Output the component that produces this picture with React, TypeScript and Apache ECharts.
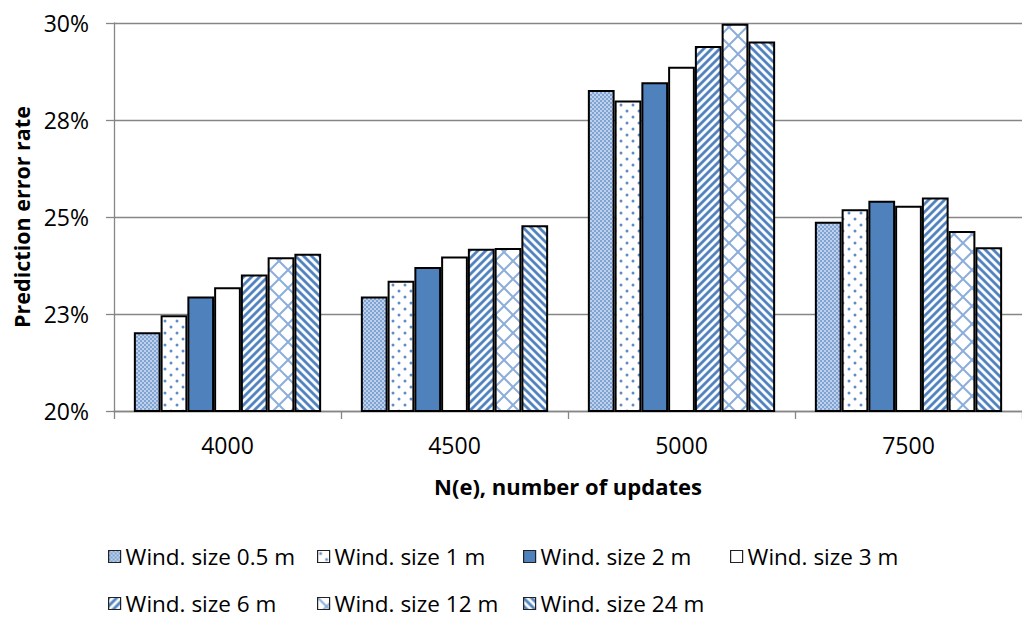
import React, { useEffect, useRef } from "react";
import * as echarts from "echarts";

const categories = ["4000", "4500", "5000", "7500"];
const yTickValues = [20, 22.5, 25, 27.5, 30];

const seriesNames = [
  "Wind. size 0.5 m",
  "Wind. size 1 m",
  "Wind. size 2 m",
  "Wind. size 3 m",
  "Wind. size 6 m",
  "Wind. size 12 m",
  "Wind. size 24 m",
];

const wind05 = [22.03, 22.95, 28.27, 24.88];
const wind1 = [22.47, 23.36, 28.0, 25.2];
const wind2 = [22.95, 23.71, 28.47, 25.42];
const wind3 = [23.19, 23.98, 28.87, 25.29];
const wind6 = [23.52, 24.18, 29.41, 25.5];
const wind12 = [23.96, 24.2, 29.98, 24.64];
const wind24 = [24.05, 24.79, 29.52, 24.22];

const seriesValues = [wind05, wind1, wind2, wind3, wind6, wind12, wind24];

const BLUE = "#4F81BD";
const FONT = "Open Sans";

function mkCanvas(w: number, h: number) {
  const c = document.createElement("canvas");
  c.width = w;
  c.height = h;
  return c;
}

function asPattern(c: HTMLCanvasElement) {
  return {
    image: c,
    repeat: "repeat",
    imageWidth: c.width,
    imageHeight: c.height,
  } as any;
}

function gridTile() {
  const c = mkCanvas(4, 4);
  const ctx = c.getContext("2d")!;
  ctx.fillStyle = "#ffffff";
  ctx.fillRect(0, 0, 4, 4);
  ctx.fillStyle = "#7FA3D3";
  ctx.fillRect(0, 0, 2, 2);
  ctx.fillRect(2, 2, 2, 2);
  ctx.fillStyle = "#A9C1E3";
  ctx.fillRect(2, 0, 2, 2);
  ctx.fillRect(0, 2, 2, 2);
  ctx.fillStyle = "#ffffff";
  ctx.fillRect(2.5, 0.5, 1, 1);
  ctx.fillRect(0.5, 2.5, 1, 1);
  return asPattern(c);
}

function dotTile() {
  const s = 12;
  const c = mkCanvas(s, s);
  const ctx = c.getContext("2d")!;
  ctx.fillStyle = "#ffffff";
  ctx.fillRect(0, 0, s, s);
  ctx.fillStyle = "#5F8CC4";
  [[3, 3], [9, 9]].forEach(([x, y]) => {
    ctx.beginPath();
    ctx.arc(x, y, 1.5, 0, Math.PI * 2);
    ctx.fill();
  });
  return asPattern(c);
}

function stripeTile(dir: number) {
  const s = 8;
  const c = mkCanvas(s, s);
  const ctx = c.getContext("2d")!;
  const img = ctx.createImageData(s, s);
  const br = 0x4f, bg = 0x81, bb = 0xbd;
  for (let y = 0; y < s; y++) {
    for (let x = 0; x < s; x++) {
      const t = ((((dir > 0 ? x + y : x - y) % s) + s) % s) + 0.5;
      let a = 0.5 + 0.5 * Math.cos((2 * Math.PI * t) / s);
      a = Math.max(0, Math.min(1, (a - 0.5) * 1.6 + 0.5));
      const i = (y * s + x) * 4;
      img.data[i] = Math.round(255 + (br - 255) * a);
      img.data[i + 1] = Math.round(255 + (bg - 255) * a);
      img.data[i + 2] = Math.round(255 + (bb - 255) * a);
      img.data[i + 3] = 255;
    }
  }
  ctx.putImageData(img, 0, 0);
  return asPattern(c);
}

function latticeTile() {
  const s = 18;
  const c = mkCanvas(s, s);
  const ctx = c.getContext("2d")!;
  ctx.fillStyle = "#ffffff";
  ctx.fillRect(0, 0, s, s);
  ctx.strokeStyle = "#8DAEDB";
  ctx.lineWidth = 2;
  for (const k of [-s, 0, s]) {
    ctx.beginPath();
    ctx.moveTo(k, 0);
    ctx.lineTo(k + s, s);
    ctx.stroke();
    ctx.beginPath();
    ctx.moveTo(k + s, 0);
    ctx.lineTo(k, s);
    ctx.stroke();
  }
  return asPattern(c);
}

const legendCols = [108, 317, 523, 730];
const legendRows = [545, 592];

export default function App() {
  const ref = useRef<HTMLDivElement>(null);

  useEffect(() => {
    if (!ref.current) return;
    const chart = echarts.init(ref.current, null, { renderer: "svg" });

    const fills = [
      gridTile(),
      dotTile(),
      BLUE,
      "#ffffff",
      stripeTile(1),
      latticeTile(),
      stripeTile(-1),
    ];

    const legends = seriesNames.map((name, i) => ({
      data: [name],
      left: legendCols[i < 4 ? i : i - 4],
      top: legendRows[i < 4 ? 0 : 1],
      padding: 0,
      icon: "rect",
      itemWidth: 12,
      itemHeight: 12,
      itemGap: 0,
      itemStyle: { borderColor: "#222", borderWidth: 1.2 },
      textStyle: { fontFamily: FONT, fontSize: 22.5, color: "#000", padding: [0, 0, 0, 0] },
      selectedMode: false,
    }));

    chart.setOption({
      animation: false,
      backgroundColor: "#ffffff",
      textStyle: { fontFamily: FONT },
      legend: legends,
      grid: { left: 114, right: -7, top: 23, bottom: 208, containLabel: false },
      xAxis: {
        type: "category",
        data: categories,
        name: "N(e), number of updates",
        nameLocation: "middle",
        nameGap: 64,
        nameTextStyle: { fontFamily: FONT, fontSize: 22, fontWeight: "bold", color: "#000" },
        axisLine: { lineStyle: { color: "#868686", width: 1.3 } },
        axisTick: { show: true, length: 8, interval: 0, lineStyle: { color: "#868686", width: 1.3 } },
        axisLabel: { fontFamily: FONT, fontSize: 23, color: "#000", margin: 22, interval: 0 },
      },
      yAxis: {
        type: "value",
        min: 20,
        max: 30,
        interval: 2.5,
        name: "Prediction error rate",
        nameLocation: "middle",
        nameGap: 81,
        nameTextStyle: { fontFamily: FONT, fontSize: 21.5, fontWeight: "bold", color: "#000" },
        axisLine: { show: true, lineStyle: { color: "#868686", width: 1.3 } },
        axisTick: { show: true, length: 8, lineStyle: { color: "#868686", width: 1.3 } },
        splitLine: { show: true, lineStyle: { color: "#868686", width: 1.3 } },
        axisLabel: {
          fontFamily: FONT,
          fontSize: 23,
          color: "#000",
          margin: 25,
          formatter: (v: number) => {
            const match = yTickValues.find((t) => Math.abs(t - v) < 1e-6);
            return Math.round(match ?? v) + "%";
          },
        },
      },
      series: seriesNames.map((name, i) => ({
        name,
        type: "bar",
        data: seriesValues[i],
        barGap: "0%",
        barCategoryGap: "17.5%",
        itemStyle: { color: fills[i], borderColor: "#000", borderWidth: 2 },
      })),
    });

    return () => chart.dispose();
  }, []);

  return (
    <div
      ref={ref}
      style={{ position: "absolute", left: 0, top: 0, width: 1022, height: 619, background: "#fff" }}
    />
  );
}
